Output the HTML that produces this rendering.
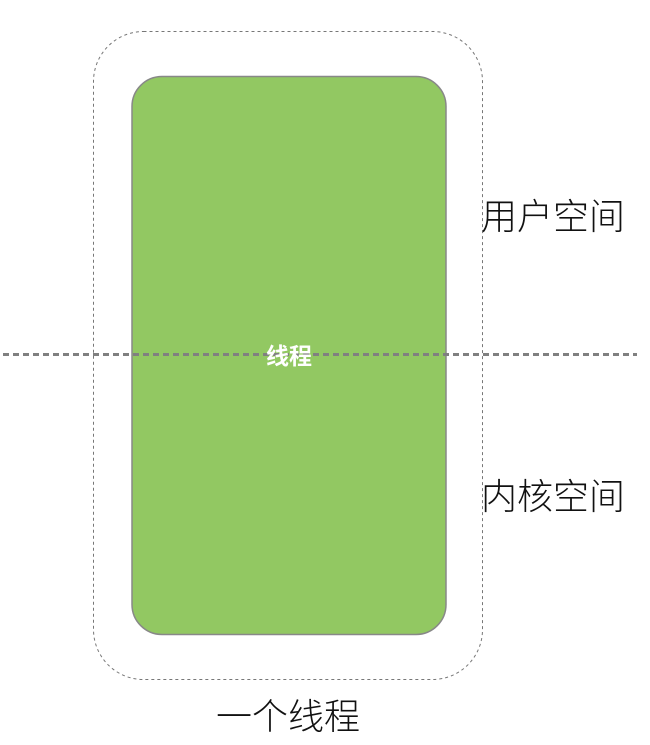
<!DOCTYPE html>
<html><head><meta charset="utf-8"><style>
body{margin:0;background:#fff;width:650px;height:740px;overflow:hidden}
text{font-family:"Liberation Sans","Noto Sans CJK SC",sans-serif}
</style></head><body>
<svg width="650" height="740" xmlns="http://www.w3.org/2000/svg">
<rect x="93.5" y="31.5" width="389" height="648" rx="50" fill="none" stroke="#777" stroke-width="1" stroke-dasharray="3,3"/>
<rect x="132" y="76.5" width="314" height="558" rx="30" fill="#92c862" stroke="#888" stroke-width="1.5"/>
<line x1="3" y1="354.5" x2="637" y2="354.5" stroke="#808080" stroke-width="3" stroke-dasharray="6,4"/>
<text x="289" y="364" font-size="23" font-weight="bold" fill="#fff" text-anchor="middle">线程</text>
<text x="553" y="229" font-size="36" font-weight="300" fill="#111" text-anchor="middle">用户空间</text>
<text x="553" y="509" font-size="36" font-weight="300" fill="#111" text-anchor="middle">内核空间</text>
<text x="288" y="729" font-size="36" font-weight="300" fill="#111" text-anchor="middle">一个线程</text>
</svg>
</body></html>
